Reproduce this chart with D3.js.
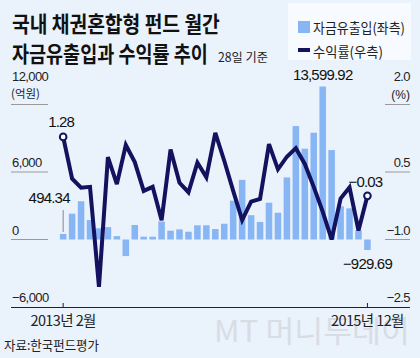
<!DOCTYPE html>
<html><head><meta charset="utf-8">
<script src="https://cdn.jsdelivr.net/npm/d3@7"></script>
<style>
html,body{margin:0;padding:0;background:#EAF2FC;}
svg{display:block;}
</style></head>
<body>
<svg id="c" width="420" height="358"></svg>
<script>
const months = ["2013-02","2013-03","2013-04","2013-05","2013-06","2013-07","2013-08","2013-09","2013-10","2013-11","2013-12",
"2014-01","2014-02","2014-03","2014-04","2014-05","2014-06","2014-07","2014-08","2014-09","2014-10","2014-11","2014-12",
"2015-01","2015-02","2015-03","2015-04","2015-05","2015-06","2015-07","2015-08","2015-09","2015-10","2015-11","2015-12"];
const flows = [494.34, 2300, 3400, 1730, 1000, 1100, 300, -1470, 1290, 250, 250,
  1600, 780, 900, 690, 1260, 1260, 930, 1400, 3450, 5300, 2160, 1560,
  3270, 2380, 5520, 10080, 8070, 9490, 13599.92, 7950, 2950, 2770, 800, -929.69];
const returns = [1.28, 0.35, 0.15, 0.17, -2.05, 0.83, 0.23, 1.10, 0.72, 0.08, 0.17,
  -0.57, 1.00, 0.26, 0.05, 0.71, 0.38, 1.37, 0.75, 0.08, -0.57, -0.16, -0.10,
  1.12, 0.56, 0.84, 1.03, 0.68, 0.17, -0.38, -1.00, -0.09, 0.16, -0.80, -0.03];
const leftTicks = [12000, 6000, 0, -6000];
const leftTickLabels = ["12,000", "6,000", "0", "\u22126,000"];
const rightTicks = [2.0, 0.5, -1.0, -2.5];
const rightTickLabels = ["2.0", "0.5", "\u22121.0", "\u22122.5"];
const xLabels = [["2013-02", "2013년 2월"], ["2015-12", "2015년 12월"]];
const titleLines = ["국내 채권혼합형 펀드 월간", "자금유출입과 수익률 추이"];
const subTitle = "28일 기준";
const legendItems = ["자금유출입(좌측)", "수익률(우측)"];
const source = "자료:한국펀드평가";

const svg = d3.select("#c");
const KR = "'Noto Sans CJK KR','Noto Sans',sans-serif";
const NUM = "'Liberation Sans','Arial',sans-serif";
const barColor = "#88B6F5", lineColor = "#12125E", gridColor = "#9a9a9a";

const x = d3.scaleBand().domain(months).range([59.9, 370.7]).paddingInner(0.27).paddingOuter(0);
const yL = d3.scaleLinear().domain([-6000, 12000]).range([307, 104.5]);
const yR = d3.scaleLinear().domain([-2.5, 2.0]).range([307, 104.5]);
const cx = m => x(m) + x.bandwidth() / 2;

// text squeezed horizontally to a target width via transform
function fitText(px, py, txt, size, width, opts) {
  opts = opts || {};
  const g = svg.append("g");
  const t = g.append("text").attr("x", 0).attr("y", 0).attr("font-family", opts.family || KR)
    .attr("font-size", size).attr("font-weight", opts.weight || 400).attr("fill", opts.fill || "#222").text(txt);
  const w = t.node().getComputedTextLength();
  const s = width / w;
  g.attr("transform", `translate(${px},${py}) scale(${s},1)`);
  return t;
}

// watermark
fitText(214, 342, "MT 머니투데이", 30, 196, {fill: "#d8dde4"});

// title
fitText(12, 32, titleLines[0], 22, 208, {weight: 700, fill: "#111"});
fitText(12, 62, titleLines[1], 22, 196, {weight: 700, fill: "#111"});
fitText(218, 62, subTitle, 12.5, 50, {fill: "#222"});

// legend
svg.append("rect").attr("x", 288).attr("y", 3).attr("width", 123).attr("height", 57).attr("fill", "#F7FAFF");
svg.append("rect").attr("x", 298).attr("y", 21).attr("width", 12).attr("height", 12).attr("fill", barColor);
svg.append("rect").attr("x", 298).attr("y", 48).attr("width", 12).attr("height", 4).attr("fill", lineColor);
fitText(313, 33, legendItems[0], 14, 92);
fitText(313, 57, legendItems[1], 14, 70);

// left axis gridlines + labels
leftTicks.forEach((t, i) => {
  if (t !== -6000) svg.append("line").attr("x1", 11).attr("x2", 48).attr("y1", yL(t)).attr("y2", yL(t))
    .attr("stroke", gridColor).attr("stroke-width", 1);
  const ly = t === 12000 ? yL(t) - 24 : yL(t) - 5;
  svg.append("text").attr("x", 12).attr("y", ly).attr("font-family", NUM).attr("font-size", 13)
    .attr("letter-spacing", -0.6).attr("fill", "#222").text(leftTickLabels[i]);
});
svg.append("text").attr("x", 11).attr("y", yL(12000) - 7).attr("font-family", KR).attr("font-size", 11.5)
  .attr("fill", "#222").text("(억원)");

// right axis
rightTicks.forEach((t, i) => {
  if (t !== -2.5) svg.append("line").attr("x1", 385).attr("x2", 410).attr("y1", yR(t)).attr("y2", yR(t))
    .attr("stroke", gridColor).attr("stroke-width", 1);
  const ly = t === 2.0 ? yR(t) - 24 : yR(t) - 5;
  svg.append("text").attr("x", 410).attr("y", ly).attr("text-anchor", "end").attr("font-family", NUM)
    .attr("font-size", 13).attr("letter-spacing", -0.6).attr("fill", "#222").text(rightTickLabels[i]);
});
svg.append("text").attr("x", 410).attr("y", yR(2.0) - 6).attr("text-anchor", "end").attr("font-family", NUM)
  .attr("font-size", 12).attr("fill", "#222").text("(%)");

// bars
svg.append("g").selectAll("rect").data(months).join("rect")
  .attr("x", d => x(d)).attr("width", x.bandwidth())
  .attr("y", (d, i) => yL(Math.max(0, flows[i])))
  .attr("height", (d, i) => Math.abs(yL(flows[i]) - yL(0)))
  .attr("fill", barColor);

// 494.34 leader
svg.append("line").attr("x1", cx(months[0])).attr("x2", cx(months[0]))
  .attr("y1", yL(flows[0]) - 2).attr("y2", yL(flows[0]) - 24).attr("stroke", "#888").attr("stroke-width", 1);

// bottom axis
svg.append("line").attr("x1", 11).attr("x2", 410).attr("y1", 307.5).attr("y2", 307.5).attr("stroke", "#222").attr("stroke-width", 1);
xLabels.forEach(([m, lab]) => {
  svg.append("line").attr("x1", cx(m)).attr("x2", cx(m)).attr("y1", 303).attr("y2", 307).attr("stroke", "#222");
  svg.append("text").attr("x", cx(m)).attr("y", 326).attr("text-anchor", "middle").attr("font-family", KR)
    .attr("font-size", 14.5).attr("fill", "#222").attr("letter-spacing", -0.6).text(lab);
});

// line
const line = d3.line().x((d, i) => cx(months[i])).y(d => yR(d)).curve(d3.curveLinear);
svg.append("path").datum(returns).attr("d", line).attr("fill", "none").attr("stroke", lineColor)
  .attr("stroke-width", 4).attr("stroke-linejoin", "miter").attr("stroke-miterlimit", 3);
[0, returns.length - 1].forEach(i => {
  svg.append("circle").attr("cx", cx(months[i])).attr("cy", yR(returns[i])).attr("r", 3.3)
    .attr("fill", "#fff").attr("stroke", lineColor).attr("stroke-width", 2);
});

// annotations
const ann = (tx, ty, txt, anchor) => svg.append("text").attr("x", tx).attr("y", ty).attr("text-anchor", anchor || "middle")
  .attr("font-family", NUM).attr("font-size", 15).attr("letter-spacing", -0.8).attr("fill", "#111").text(txt);
ann(cx(months[0]) - 2, yR(returns[0]) - 10, d3.format(".2f")(returns[0]));
ann(cx(months[0]) - 14, yL(flows[0]) - 31, d3.format(".2f")(flows[0]));
const iMax = flows.indexOf(d3.max(flows));
ann(cx(months[iMax]), yL(flows[iMax]) - 7, d3.format(",.2f")(flows[iMax]));
const n = months.length - 1;
ann(cx(months[n]) - 2, yR(returns[n]) - 9, "\u2212" + d3.format(".2f")(Math.abs(returns[n])));
ann(cx(months[n]), yL(flows[n]) + 19, "\u2212" + d3.format(".2f")(Math.abs(flows[n])));

// source
fitText(4, 350, source, 13, 95);
</script>
</body></html>
